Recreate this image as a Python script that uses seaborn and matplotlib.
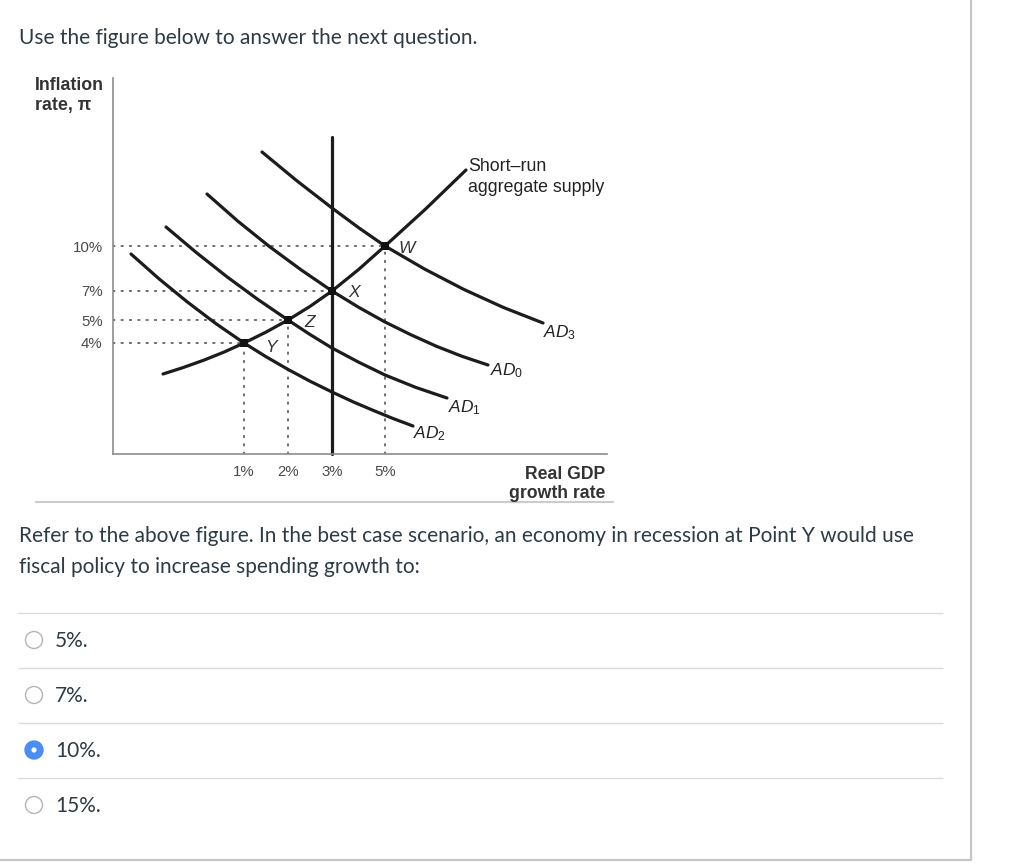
import numpy as np
import pandas as pd
import matplotlib
matplotlib.use("Agg")
import matplotlib.pyplot as plt
import seaborn as sns
from matplotlib.patches import Circle

sns.set_style("white")
plt.rcParams['font.family'] = ['Liberation Sans', 'DejaVu Sans']
plt.rcParams['mathtext.fontset'] = 'custom'
plt.rcParams['mathtext.it'] = 'Liberation Sans:italic'
plt.rcParams['mathtext.rm'] = 'Liberation Sans'

# ---------------- data ----------------
prompt_text = "Use the figure below to answer the next question."
question_lines = [
    "Refer to the above figure. In the best case scenario, an economy in recession at Point Y would use",
    "fiscal policy to increase spending growth to:",
]
choices = ["5%.", "7%.", "10%.", "15%."]
selected_choice = "10%."

y_title = ["Inflation", "rate, \u03c0"]
x_title = ["Real GDP", "growth rate"]

# schematic diagram coordinates
gdp_ticks = ["1%", "2%", "3%", "5%"]
gdp_tick_at = [131, 175, 219, 272]
infl_ticks = ["10%", "7%", "5%", "4%"]
infl_tick_at = [208, 163, 134, 111]

point_names = ["Y", "Z", "X", "W"]
point_x = [131, 175, 219, 272]
point_y = [111, 134, 163, 208]

ad2_x = [18, 46, 74, 103, 131, 153, 175, 197, 219, 240, 260, 280, 300]
ad2_y = [200, 175.2, 152.3, 130.3, 111, 97.3, 84.6, 72.8, 62, 52.2, 43.7, 35.5, 28]
ad1_x = [53, 83.5, 114, 144.5, 175, 197, 219, 245.5, 272, 303, 334]
ad1_y = [227, 201.3, 177.2, 154.8, 134, 119.5, 106, 91.9, 79, 66.5, 56]
ad0_x = [94, 125, 156.5, 188, 219, 245.5, 272, 298, 323.5, 349, 375]
ad0_y = [260, 232.7, 207.4, 184.2, 163, 146.8, 132, 119.2, 107.7, 97.7, 89]
ad3_x = [149, 184, 219, 245.5, 272, 311.5, 351, 390.5, 430]
ad3_y = [302, 273.1, 246, 226.4, 208, 185, 164.5, 146.5, 131]
sras_x = [50, 70, 90.5, 111, 131, 153, 175, 197, 219, 245.5, 272, 312.5, 353]
sras_y = [80, 86.4, 93.7, 101.9, 111, 121.9, 134, 147.6, 163, 184.4, 208, 244.9, 284]
lras_x = [219, 219]
lras_y = [0, 317]

curve_names = ["AD2", "AD1", "AD0", "AD3", "SRAS", "LRAS"]
curve_xs = [ad2_x, ad1_x, ad0_x, ad3_x, sras_x, lras_x]
curve_ys = [ad2_y, ad1_y, ad0_y, ad3_y, sras_y, lras_y]
ad_labels = [r"$AD_2$", r"$AD_1$", r"$AD_0$", r"$AD_3$"]
sras_label = ["Short\u2013run", "aggregate supply"]

# ---------------- layout ----------------
W, H = 1024, 865
fig = plt.figure(figsize=(W / 100, H / 100), dpi=100)
fig.patch.set_facecolor("white")

# page layer (pixel coordinates)
bg = fig.add_axes([0, 0, 1, 1])
bg.set_xlim(0, W)
bg.set_ylim(H, 0)
bg.axis("off")

page_col = "#2d3b45"
page_font = ["Lato", "DejaVu Sans"]
page_size = 15

bg.text(19, 44, prompt_text, fontsize=page_size, color=page_col, family=page_font, va="baseline")
for i, line in enumerate(question_lines):
    bg.text(19, 542 + 31 * i, line, fontsize=page_size, color=page_col, family=page_font, va="baseline")

# separator under figure
bg.plot([35, 614], [502, 502], color="#cccccc", lw=1.5, solid_capstyle="butt")
# option separators
for i in range(len(choices)):
    y = 613 + 55 * i
    bg.plot([18, 943], [y, y], color="#dadada", lw=1.0, solid_capstyle="butt")
# choices
for i, c in enumerate(choices):
    yc = 640 + 55 * i
    if c == selected_choice:
        bg.add_patch(Circle((34, yc), 9, fc="#4a8ef5", ec="#4a8ef5", lw=1))
        bg.add_patch(Circle((34, yc), 2.6, fc="white", ec="none"))
    else:
        bg.add_patch(Circle((34, yc), 8.5, fc="white", ec="#b5b5b5", lw=1.0))
    bg.text(55, yc + 7, c, fontsize=page_size, color=page_col, family=page_font, va="baseline")

# borders
bg.plot([970.5, 970.5], [0, 859.5], color="#c6c6c6", lw=1.6, solid_capstyle="butt")
bg.plot([0, 971.5], [859.5, 859.5], color="#c6c6c6", lw=1.6, solid_capstyle="butt")

# diagram axes: origin at page pixel (113, 454)
ox, oy, aw, ah = 113, 454, 494, 376
ax = fig.add_axes([ox / W, (H - oy) / H, aw / W, ah / H])
ax.set_xlim(0, aw)
ax.set_ylim(0, ah)
ax.patch.set_alpha(0)
for s in ["top", "right"]:
    ax.spines[s].set_visible(False)
for s in ["left", "bottom"]:
    ax.spines[s].set_color("#8c8c8c")
    ax.spines[s].set_linewidth(1.2)

ax.set_xticks(gdp_tick_at)
ax.set_xticklabels(gdp_ticks)
ax.set_yticks(infl_tick_at)
ax.set_yticklabels(infl_ticks)
ax.tick_params(axis="both", direction="in", length=5, width=1.0, color="#555555",
               labelsize=10.8, labelcolor="#4a4a4a")
ax.tick_params(axis="y", pad=7.5)
ax.tick_params(axis="x", pad=8)

dot_style = dict(color="#555555", lw=1.2, linestyle=(0, (1, 4)), dash_capstyle="round")
for px, py in zip(point_x, point_y):
    ax.plot([0, px], [py, py], **dot_style)
    ax.plot([px, px], [0, py], **dot_style)

line_col = "#1c1c1c"
for name, xs, ys in zip(curve_names, curve_xs, curve_ys):
    df = pd.DataFrame({"x": xs, "y": ys})
    sns.lineplot(data=df, x="x", y="y", ax=ax, sort=False, estimator=None,
                 color=line_col, lw=2.3, clip_on=False)

pts = pd.DataFrame({"x": point_x, "y": point_y, "name": point_names})
sns.scatterplot(data=pts, x="x", y="y", ax=ax, marker="s", s=28, color="#111111",
                edgecolor="none", zorder=5, clip_on=False)
ax.set_xlabel("")
ax.set_ylabel("")

# point labels
pl_pos = {"Y": (152, 102), "Z": (191, 127), "X": (235, 157), "W": (285, 201)}
for n in point_names:
    ax.text(*pl_pos[n], n, fontsize=12.5, style="italic", color="#333333",
            va="baseline", ha="left")

# AD labels
adl_pos = [(300, 16), (335, 42), (377, 79), (430, 117)]
for lab, (lx, ly) in zip(ad_labels, adl_pos):
    ax.text(lx, ly, lab, fontsize=12.5, color="#222222", va="baseline", ha="left")

# SRAS label
ax.text(355, 283, sras_label[0], fontsize=12.8, color="#222222", va="baseline")
ax.text(355, 262, sras_label[1], fontsize=12.8, color="#222222", va="baseline")

# axis titles (page coordinates)
bg.text(35, 90, y_title[0], fontsize=12.8, fontweight="bold", color="#333333", va="baseline")
bg.text(35, 110, y_title[1], fontsize=12.8, fontweight="bold", color="#333333", va="baseline")
bg.text(605, 479, x_title[0], fontsize=12.7, fontweight="bold", color="#333333", va="baseline", ha="right")
bg.text(605, 498, x_title[1], fontsize=12.7, fontweight="bold", color="#333333", va="baseline", ha="right")

fig.savefig("out.png", dpi=100, facecolor="white")
